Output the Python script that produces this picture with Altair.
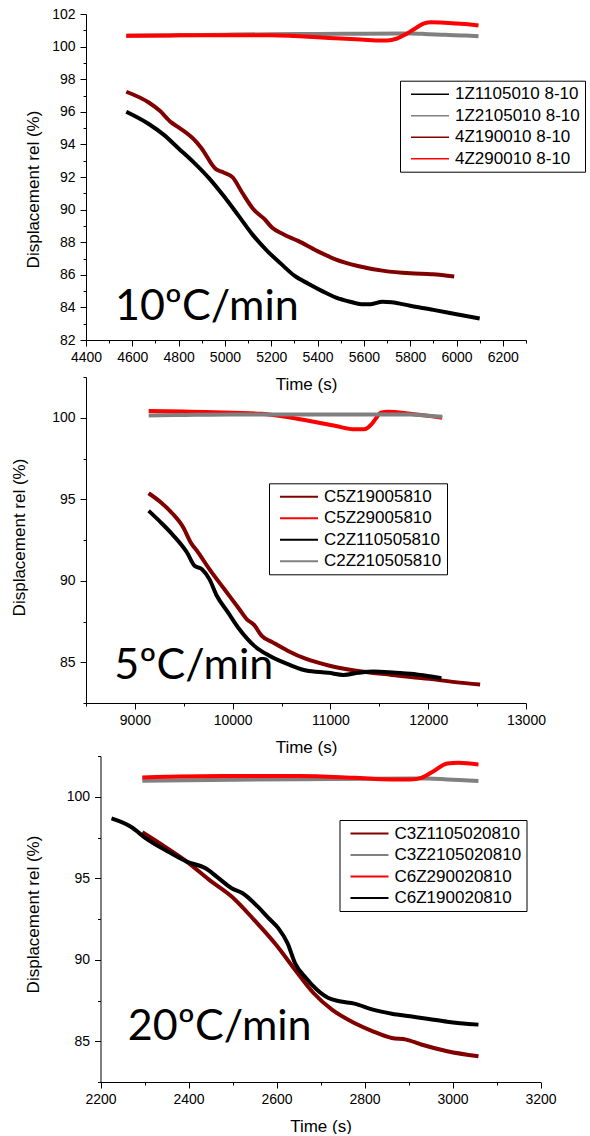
import altair as alt
import pandas as pd

FONT = "Liberation Sans"
BLACK, GRAY, MAROON, RED = "#000000", "#808080", "#800000", "#ff0000"

# ---------------- Panel 1 : 10 C/min ----------------
p1_names = ["1Z1105010 8-10", "1Z2105010 8-10", "4Z190010 8-10", "4Z290010 8-10"]
p1_colors = [BLACK, GRAY, MAROON, RED]
p1_black_t = [4574, 4671, 4735, 4800, 4865, 4930, 4994, 5060, 5120, 5180, 5240, 5300, 5360,
              5420, 5480, 5540, 5590, 5630, 5680, 5720, 5800, 5900, 6000, 6100]
p1_black_v = [96.0, 95.25, 94.6, 93.75, 92.9, 91.95, 90.85, 89.6, 88.45, 87.5, 86.7, 85.95, 85.45,
              85.0, 84.6, 84.35, 84.2, 84.2, 84.35, 84.32, 84.1, 83.85, 83.58, 83.32]
p1_gray_t = [4574, 4800, 5000, 5200, 5400, 5600, 5800, 5860, 5950, 6040, 6095]
p1_gray_v = [100.67, 100.7, 100.73, 100.76, 100.78, 100.79, 100.8, 100.78, 100.72, 100.68, 100.64]
p1_maroon_t = [4574, 4671, 4719, 4768, 4800, 4865, 4897, 4961, 4994, 5034, 5074, 5123, 5171,
               5203, 5252, 5316, 5397, 5477, 5574, 5687, 5800, 5897, 5990]
p1_maroon_v = [97.23, 96.57, 96.06, 95.35, 95.04, 94.32, 93.8, 92.48, 92.28, 91.97, 91.05, 90.02, 89.41,
               88.9, 88.49, 88.08, 87.47, 86.95, 86.54, 86.24, 86.09, 86.03, 85.89]
p1_red_t = [4574, 4800, 5000, 5200, 5300, 5400, 5500, 5600, 5650, 5700, 5740, 5780, 5820, 5860,
            5890, 5950, 6000, 6050, 6095]
p1_red_v = [100.67, 100.69, 100.7, 100.7, 100.65, 100.57, 100.5, 100.42, 100.38, 100.38, 100.48,
            100.75, 101.1, 101.42, 101.5, 101.47, 101.42, 101.37, 101.3]

# ---------------- Panel 2 : 5 C/min ----------------
p2_names = ["C5Z19005810", "C5Z29005810", "C2Z110505810", "C2Z210505810"]
p2_colors = [MAROON, RED, BLACK, GRAY]
p2_maroon_t = [9141, 9267, 9381, 9495, 9571, 9648, 9762, 9914, 10067, 10143, 10219, 10295, 10410,
               10562, 10752, 10981, 11248, 11629, 12010, 12276, 12531]
p2_maroon_v = [95.37, 94.8, 94.14, 93.27, 92.35, 91.73, 90.71, 89.49, 88.27, 87.65, 87.29, 86.63, 86.22,
               85.71, 85.2, 84.8, 84.49, 84.22, 83.98, 83.78, 83.63]
p2_red_t = [9141, 9500, 9724, 10000, 10295, 10600, 10790, 11057, 11248, 11343, 11419, 11470, 11514,
            11590, 11819, 12143]
p2_red_v = [100.41, 100.38, 100.35, 100.3, 100.24, 100.0, 99.8, 99.49, 99.29, 99.29, 99.59, 100.0,
            100.31, 100.37, 100.24, 100.0]
p2_black_t = [9141, 9267, 9381, 9533, 9610, 9686, 9762, 9838, 9952, 10067, 10219, 10371, 10600,
              10752, 10981, 11133, 11286, 11438, 11667, 11819, 12010, 12135]
p2_black_v = [94.29, 93.57, 92.86, 91.73, 90.92, 90.71, 90.1, 89.08, 88.06, 87.04, 86.02, 85.41, 84.8,
              84.49, 84.35, 84.22, 84.35, 84.43, 84.35, 84.29, 84.14, 84.02]
p2_gray_t = [9141, 9500, 10000, 10500, 11000, 11500, 11819, 12000, 12143]
p2_gray_v = [100.14, 100.17, 100.2, 100.2, 100.2, 100.2, 100.2, 100.12, 100.06]

# ---------------- Panel 3 : 20 C/min ----------------
p3_names = ["C3Z1105020810", "C3Z2105020810", "C6Z290020810", "C6Z190020810"]
p3_colors = [MAROON, GRAY, RED, BLACK]
p3_maroon_t = [2295, 2346, 2396, 2447, 2498, 2549, 2599, 2642, 2684, 2726, 2777, 2819, 2862,
               2895, 2929, 2988, 3059]
p3_maroon_v = [97.82, 96.94, 96.02, 94.9, 93.88, 92.45, 90.92, 89.39, 87.96, 86.94, 86.12, 85.61,
               85.2, 85.1, 84.8, 84.39, 84.08]
p3_gray_t = [2295, 2650, 2904, 2946, 2988, 3059]
p3_gray_v = [100.98, 101.08, 101.12, 101.12, 101.06, 100.96]
p3_red_t = [2295, 2481, 2650, 2777, 2862, 2904, 2929, 2955, 2988, 3014, 3059]
p3_red_v = [101.18, 101.27, 101.27, 101.16, 101.06, 101.06, 101.16, 101.53, 102.04, 102.08, 101.98]
p3_black_t = [2225, 2269, 2303, 2354, 2396, 2439, 2464, 2498, 2523, 2557, 2582, 2604, 2625,
              2642, 2667, 2692, 2718, 2743, 2777, 2819, 2862, 2904, 2946, 2988, 3059]
p3_black_v = [98.67, 98.16, 97.45, 96.63, 96.02, 95.61, 95.1, 94.39, 94.08, 93.27, 92.55, 91.94,
              91.02, 89.8, 88.88, 88.16, 87.65, 87.45, 87.31, 86.94, 86.69, 86.53, 86.37, 86.2, 86.02]

# annotations
ann_labels = ["10ºC/min", "5ºC/min", "20ºC/min"]
ann_t = [4525, 8790, 2262]
ann_v = [83.2, 83.98, 85.1]


def make_df(names, ts, vs):
    rows = []
    for n, t, v in zip(names, ts, vs):
        for a, b in zip(t, v):
            rows.append({"series": n, "t": a, "v": b})
    return pd.DataFrame(rows)


df1 = make_df(p1_names, [p1_black_t, p1_gray_t, p1_maroon_t, p1_red_t],
              [p1_black_v, p1_gray_v, p1_maroon_v, p1_red_v])
df2 = make_df(p2_names, [p2_maroon_t, p2_red_t, p2_black_t, p2_gray_t],
              [p2_maroon_v, p2_red_v, p2_black_v, p2_gray_v])
df3 = make_df(p3_names, [p3_maroon_t, p3_gray_t, p3_red_t, p3_black_t],
              [p3_maroon_v, p3_gray_v, p3_red_v, p3_black_v])

W = 440
H = 326


def panel(df, names, colors, xdom, xvals, xmajor, ydom, yvals, ymajor,
          shift, ytx, yty, lx, ly, ann_i, legend_sw):
    width = W + shift
    xscale = alt.Scale(domain=xdom, nice=False, zero=False, range=[shift, width])
    yscale = alt.Scale(domain=ydom, nice=False, zero=False)
    xaxis = alt.Axis(
        values=xvals, format="d",
        labelExpr=f"datum.value % {xmajor} === 0 ? datum.label : ''",
        tickSize={"condition": {"test": f"datum.value % {xmajor} === 0", "value": 6}, "value": 3},
        labelPadding=4, labelFlush=False, labelOverlap=False, grid=False,
        title="Time (s)", titleY=44, titleBaseline="middle",
    )
    yaxis = alt.Axis(
        values=yvals, format="d",
        labelExpr=f"datum.value % {ymajor} === 0 ? datum.label : ''",
        tickSize={"condition": {"test": f"datum.value % {ymajor} === 0", "value": 6}, "value": 3},
        labelPadding=5, labelFlush=False, labelOverlap=False, grid=False,
        title="Displacement rel (%)", titleX=ytx, titleY=yty, titleBaseline="middle",
        titleAlign="center", offset=-shift,
    )
    X = alt.X("t:Q", scale=xscale, axis=xaxis)
    Y = alt.Y("v:Q", scale=yscale, axis=yaxis)
    legend = alt.Legend(
        title=None, orient="none", legendX=lx, legendY=ly,
        symbolType="M-9.5,0H9.5", symbolSize=16, symbolStrokeWidth=legend_sw,
        symbolOffset=16.5, labelOffset=16.5, labelFont=FONT, labelFontSize=17,
        labelColor="black", labelAlign="left", labelLimit=0, padding=5, rowPadding=3.5,
        strokeColor="black", fillColor="white",
    )
    lines = alt.Chart(df).mark_line(strokeWidth=4, interpolate="monotone").encode(
        x=X, y=Y,
        color=alt.Color("series:N", scale=alt.Scale(domain=names, range=colors),
                        sort=names, legend=legend),
    )
    ann = pd.DataFrame({"t": [ann_t[ann_i]], "v": [ann_v[ann_i]], "label": [ann_labels[ann_i]]})
    text = alt.Chart(ann).mark_text(align="left", baseline="alphabetic", font="Lato",
                                    fontSize=43, color="black").encode(x=X, y=Y, text="label:N")
    return alt.layer(lines, text).properties(width=width, height=H)


c1 = panel(df1, p1_names, p1_colors, [4400, 6300], list(range(4400, 6301, 100)), 200,
           [82, 102], list(range(82, 103)), 2, 0, -52.7, 175, 314, 66.7, 0, 1.5)
c2 = panel(df2, p2_names, p2_colors, [8500, 13000], list(range(8500, 13001, 500)), 1000,
           [82.5, 102.5], [82.5 + 2.5 * i for i in range(9)], 5, 0, -66.7, 160, 183, 106.3, 1, 2)
c3 = panel(df3, p3_names, p3_colors, [2200, 3200], list(range(2200, 3201, 100)), 200,
           [82.5, 102.5], [82.5 + 2.5 * i for i in range(9)], 5, 14.5, -67, 158, 253.5, 64, 2, 2)


def spacer(h):
    return alt.Chart(pd.DataFrame({"s": [0]})).mark_point(opacity=0).encode(
        x=alt.value(0), y=alt.value(0)).properties(width=10, height=h)


chart = alt.vconcat(c1, spacer(36.3), c2, spacer(53), c3, spacing=0, bounds="flush").resolve_scale(
    color="independent", x="independent", y="independent"
).resolve_legend(color="independent").configure_view(
    stroke=None
).configure_axis(
    domainColor="black", tickColor="black", labelColor="black", titleColor="black",
    labelFont=FONT, titleFont=FONT, labelFontSize=14, titleFontSize=17, titleFontWeight="normal",
    domainWidth=1, tickWidth=1,
).properties(
    padding={"left": 10, "top": 7, "right": 0, "bottom": 0}
)

chart.save("out.html", embed_options={"renderer": "svg", "actions": False})
